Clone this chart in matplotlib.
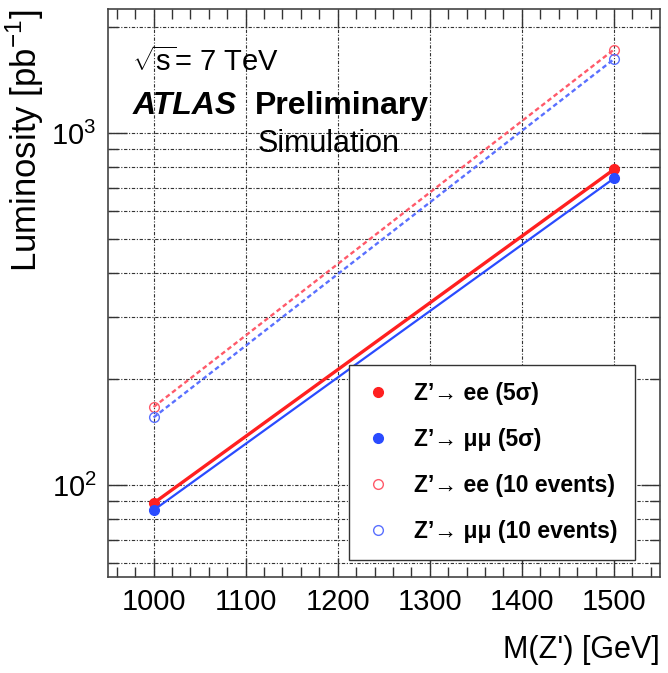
import matplotlib

matplotlib.use("Agg")
import matplotlib.pyplot as plt  # noqa: E402
from matplotlib.ticker import MultipleLocator, LogLocator, NullFormatter  # noqa: E402

plt.rcParams["font.family"] = ["Liberation Sans", "DejaVu Sans"]
plt.rcParams["mathtext.fontset"] = "custom"
plt.rcParams["mathtext.rm"] = "Liberation Sans"

mass = [1000, 1500]
lumi_ee_5sigma = [89, 790]
lumi_mumu_5sigma = [85, 745]
lumi_ee_10evt = [167, 1730]
lumi_mumu_10evt = [156, 1625]

labels = [
    "Z’→ ee (5σ)",
    "Z’→ μμ (5σ)",
    "Z’→ ee (10 events)",
    "Z’→ μμ (10 events)",
]

RED = "#ff2020"
BLUE = "#2a4bff"
RED_LIGHT = "#ff5a6a"
BLUE_LIGHT = "#5a70ff"

fig = plt.figure(figsize=(6.68, 6.73), dpi=100)
ax = fig.add_axes([0.161, 0.143, 0.827, 0.843])

ax.plot(mass, lumi_ee_5sigma, color=RED, lw=2.4, marker="o", ms=7,
        label=labels[0])
ax.plot(mass, lumi_mumu_5sigma, color=BLUE, lw=1.6, marker="o", ms=7,
        label=labels[1])
ax.plot(mass, lumi_ee_10evt, color=RED_LIGHT, lw=1.7, ls=(0, (2.0, 1.3)),
        marker="o", ms=7, mfc="none", mew=1.0, label=labels[2])
ax.plot(mass, lumi_mumu_10evt, color=BLUE_LIGHT, lw=1.7, ls=(0, (2.0, 1.3)),
        marker="o", ms=7, mfc="none", mew=1.0, label=labels[3])

ax.set_yscale("log")
ax.set_xlim(950, 1550)
ax.set_ylim(55, 2250)

ax.xaxis.set_major_locator(MultipleLocator(100))
ax.xaxis.set_minor_locator(MultipleLocator(20))
ax.yaxis.set_major_locator(LogLocator(base=10))
ax.yaxis.set_minor_locator(LogLocator(base=10, subs=range(2, 10)))
ax.yaxis.set_minor_formatter(NullFormatter())

ax.tick_params(which="both", direction="in", top=True, right=True,
               labelsize=21, pad=8, color="#333333")
ax.tick_params(which="major", length=14, width=1.0)
ax.tick_params(which="minor", length=7, width=1.0)

grid_style = dict(color="#333333", ls=(0, (3, 1.5, 1, 1.5)), lw=0.8)
ax.grid(True, which="major", axis="both", **grid_style)
ax.grid(True, which="minor", axis="y", **grid_style)

for sp in ax.spines.values():
    sp.set_color("#444444")
    sp.set_linewidth(1.2)

ax.set_xlabel("M(Z') [GeV]", fontsize=22, loc="right", labelpad=14)
ax.set_ylabel("Luminosity [pb$^{-1}$]", fontsize=25, loc="top", labelpad=4)

ax.text(0.045, 0.908, "$\\sqrt{\\mathrm{s}}$= 7 TeV", transform=ax.transAxes,
        fontsize=21, va="center")
ax.text(0.045, 0.829, "ATLAS", transform=ax.transAxes, fontsize=23,
        fontweight="bold", style="italic", va="center")
ax.text(0.266, 0.829, "Preliminary", transform=ax.transAxes, fontsize=23,
        fontweight="bold", va="center")
ax.text(0.272, 0.762, "Simulation", transform=ax.transAxes, fontsize=22,
        va="center")

leg = ax.legend(loc="lower right", bbox_to_anchor=(0.955, 0.03),
                fontsize=16.5, frameon=True, fancybox=False,
                edgecolor="#333333", framealpha=1, handlelength=1.0,
                handletextpad=1.1, labelspacing=1.0, borderpad=0.75,
                borderaxespad=0)
leg.get_frame().set_linewidth(1.0)
for h in leg.legend_handles:
    h.set_linestyle("none")
for t in leg.get_texts():
    t.set_fontweight("bold")

fig.savefig("out.png", dpi=100)
